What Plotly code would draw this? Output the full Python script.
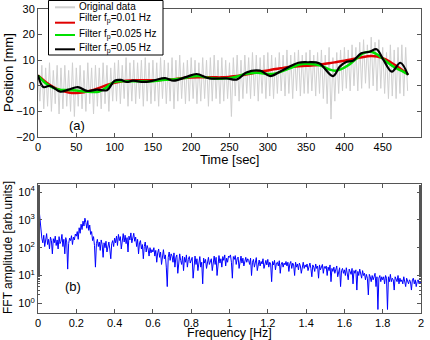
import plotly.graph_objects as go

# ---------------- data: panel (a) ----------------
raw_t_step = 2.5
raw_pos = [
    4, -6, 8, -9, 7, -8, 9, -10, 6, -7, 8, -11, 7, -9, 8, -8, 6, -10, 9, -12,
    7, -8, 8, -9, 6, -10, 9, -7, 7, -11, 8, -8, 7, -9, 9, -7, 8, -10, 7, -6,
    9, -6, 10, -7, 8, -5, 11, -8, 9, -6, 10, -7, 9, -5, 10, -8, 11, -6, 9, -7,
    10, -6, 9, -8, 11, -5, 10, -7, 9, -6, 11, -9, 10, -6, 12, -5, 9, -7, 10, -6,
    11, -5, 10, -7, 9, -6, 11, -5, 10, -8, 11, -6, 12, -5, 10, -7, 11, -6, 10, -5,
    9, -12, 11, -4, 12, -6, 10, -5, 12, -3, 11, -5, 13, -4, 12, -6, 11, -3, 12, -5,
    13, -4, 12, -5, 11, -3, 13, -2, 12, -4, 14, -3, 12, -5, 13, -2, 14, -4, 12, -3,
    13, -3, 14, -2, 12, -4, 13, -3, 14, -5, 12, -7, 15, -13, 11, -6, 13, -3, 14, -2,
    15, -1, 14, -2, 16, 0, 15, -2, 17, -1, 18, 1, 16, -1, 19, 0, 17, -2, 18, -1,
    15, -3, 13, -5, 16, -4, 14, -5, 15, -3, 16, -4, 15, -2,
]
raw_time = [i * raw_t_step for i in range(len(raw_pos))]

red_time = [0, 10, 20, 30, 40, 50, 60, 70, 80, 90, 100, 110, 120, 130, 140, 150,
            160, 170, 180, 190, 200, 210, 220, 230, 240, 250, 260, 270, 280, 290,
            300, 310, 320, 330, 340, 350, 360, 370, 380, 390, 400, 410, 420, 436,
            450, 460, 470, 483]
red_pos = [4, 1.5, -0.5, -1.8, -2.6, -2.8, -2.5, -1.8, -0.8, 0.3, 1.2, 1.8, 2.1,
           2.2, 2.2, 2.2, 2.3, 2.5, 2.7, 3.0, 3.2, 3.3, 3.3, 3.3, 3.3, 3.5, 3.8,
           4.3, 4.9, 5.5, 6.0, 6.6, 7.0, 7.4, 7.6, 7.8, 8.0, 8.4, 8.8, 9.3, 9.8,
           10.4, 11.0, 11.6, 10.8, 9.3, 7.3, 4.5]

green_time = [0, 10, 20, 30, 40, 50, 60, 70, 80, 90, 100, 110, 120, 130, 140, 150,
              160, 170, 180, 190, 200, 210, 220, 230, 240, 250, 260, 270, 280, 290,
              300, 310, 320, 330, 340, 350, 360, 370, 380, 388, 395, 405, 415, 425,
              435, 445, 455, 465, 475, 483]
green_pos = [4, 1, -0.8, -1.6, -1.6, -1.8, -2.2, -2.4, -2.2, -0.5, 1.6, 1.8, 1.8,
             1.8, 1.7, 1.8, 2.2, 2.4, 2.6, 3.0, 3.6, 3.8, 3.2, 2.9, 2.8, 3.0, 3.6,
             4.6, 5.0, 5.0, 4.6, 4.8, 5.8, 7.0, 8.2, 8.6, 8.4, 7.8, 6.4, 5.9, 6.4,
             8.0, 10.5, 12.8, 13.3, 11.8, 9.4, 7.3, 5.8, 4.5]

black_time = [0, 7, 16, 29, 40, 52, 64, 77, 90, 100, 108, 116, 124, 138, 150, 166,
              177, 194, 207, 224, 246, 260, 272, 290, 303, 318, 340, 352, 367, 385,
              394, 403, 411, 422, 433, 442, 451, 462, 473, 483]
black_pos = [4.2, -0.5, 0, -2.3, -1.5, -0.5, -2, -1.5, -1.7, 2, 2.3, 1.5, 2, 1.5,
             2, 3, 2, 3.5, 4.6, 2.9, 2.9, 2.5, 5.2, 5.9, 3.8, 5.9, 9, 9.2, 8.8,
             3.8, 7.5, 9.4, 9.8, 12.7, 13.3, 14.3, 10.1, 5.5, 9, 4.2]

# ---------------- data: panel (b) ----------------
fft_df = 0.005
fft_amp = [
    6000, 2500, 900, 400, 220, 150, 280, 110, 170, 320, 130, 200, 90, 240, 180, 60, 210, 150, 260, 120,
    190, 90, 250, 140, 170, 300, 110, 200, 60, 230, 160, 17, 140, 220, 180, 270, 130, 240, 190, 310,
    260, 380, 200, 520, 330, 700, 450, 900, 600, 1150, 800, 500, 950, 420, 650, 300, 380, 180, 250, 120,
    20, 140, 200, 110, 160, 80, 190, 130, 45, 150, 100, 170, 70, 120, 160, 90, 40, 140, 180, 110,
    220, 150, 260, 120, 300, 180, 250, 90, 200, 320, 160, 280, 140, 230, 70, 260, 190, 340, 150, 210,
    330, 170, 240, 110, 200, 60, 150, 180, 90, 130, 40, 110, 160, 70, 120, 90, 50, 100, 65, 85,
    70, 100, 50, 80, 30, 65, 90, 45, 70, 25, 60, 85, 40, 55, 20, 4, 45, 70, 35, 60,
    50, 30, 65, 20, 45, 55, 12, 40, 60, 35, 25, 50, 15, 45, 30, 55, 20, 38, 48, 28,
    35, 45, 8, 30, 50, 25, 40, 15, 35, 48, 20, 30, 5, 42, 28, 38, 18, 33, 45, 25,
    30, 40, 15, 35, 50, 25, 45, 10, 38, 52, 28, 40, 20, 48, 35, 55, 22, 42, 30, 50,
    45, 55, 30, 8, 48, 38, 52, 25, 40, 46, 18, 35, 50, 28, 42, 22, 38, 45, 30, 40,
    35, 25, 42, 10, 30, 38, 20, 33, 44, 15, 28, 36, 22, 32, 26, 40, 18, 30, 35, 24,
    38, 20, 30, 26, 6, 32, 24, 35, 16, 28, 30, 22, 34, 12, 26, 30, 20, 28, 24, 32,
    22, 30, 14, 26, 32, 18, 28, 24, 10, 30, 20, 26, 16, 28, 22, 12, 25, 30, 18, 24,
    20, 26, 15, 22, 28, 18, 9, 24, 20, 14, 26, 18, 22, 8, 24, 16, 20, 25, 12, 21,
    18, 22, 10, 20, 15, 24, 6, 18, 14, 20, 12, 17, 22, 9, 16, 19, 4, 15, 18, 12,
    16, 10, 19, 13, 7, 17, 14, 11, 18, 5, 15, 12, 16, 3, 14, 10, 17, 12, 8, 15,
    10, 12, 7, 11, 8, 2, 11, 9, 6, 10, 7, 9, 12, 4, 9, 0.6, 8, 10, 6, 9,
    7, 9, 5, 10, 8, 0.6, 9, 6, 11, 6, 8, 7, 3, 9, 7, 6, 10, 5, 8, 6,
    7, 5, 9, 6, 4, 8, 6, 5, 7, 6, 3, 7, 8, 5, 7, 4, 6, 7, 5, 6,
    5,
]
fft_freq = [round(i * fft_df, 4) for i in range(len(fft_amp))]

x_ticks_a = [0, 50, 100, 150, 200, 250, 300, 350, 400, 450, 500]
y_ticks_a = [-20, -10, 0, 10, 20, 30]
x_ticks_b = [0, 0.2, 0.4, 0.6, 0.8, 1, 1.2, 1.4, 1.6, 1.8, 2]
x_ticktext_b = ["0", "0.2", "0.4", "0.6", "0.8", "1", "1.2", "1.4", "1.6", "1.8", "2"]
y_ticks_b = [1, 10, 100, 1000, 10000]
y_ticktext_b = ["10<sup>0</sup>", "10<sup>1</sup>", "10<sup>2</sup>", "10<sup>3</sup>", "10<sup>4</sup>"]

legend_labels = ["Original data", "Filter f<sub>p</sub>=0.01 Hz",
                 "Filter f<sub>p</sub>=0.025 Hz", "Filter f<sub>p</sub>=0.05 Hz"]
legend_colors = ["#d0d0d0", "#e00000", "#00e000", "#000000"]

FONT = "Liberation Sans, Arial, sans-serif"
W, H = 430, 340


def px(x):
    return x / W


def py(y):
    return (H - y) / H


fig = go.Figure()
fig.add_trace(go.Scatter(x=raw_time, y=raw_pos, mode="lines", name=legend_labels[0],
                         line=dict(color=legend_colors[0], width=1), xaxis="x", yaxis="y"))
fig.add_trace(go.Scatter(x=red_time, y=red_pos, mode="lines", name=legend_labels[1],
                         line=dict(color=legend_colors[1], width=2.5, shape="spline"), xaxis="x", yaxis="y"))
fig.add_trace(go.Scatter(x=green_time, y=green_pos, mode="lines", name=legend_labels[2],
                         line=dict(color=legend_colors[2], width=2.5, shape="spline"), xaxis="x", yaxis="y"))
fig.add_trace(go.Scatter(x=black_time, y=black_pos, mode="lines", name=legend_labels[3],
                         line=dict(color=legend_colors[3], width=2.2, shape="spline"), xaxis="x", yaxis="y"))
fig.add_trace(go.Scatter(x=fft_freq, y=fft_amp, mode="lines", name="FFT",
                         line=dict(color="#0000ff", width=1), xaxis="x2", yaxis="y2"))

axis_common = dict(showline=True, linecolor="#555555", linewidth=1, mirror="ticks",
                   ticks="inside", ticklen=4, tickcolor="#555555", showgrid=False,
                   zeroline=False, automargin=False,
                   tickfont=dict(size=11, color="black", family=FONT))

# compact legend drawn as a boxed key (matching the reference's tight rows)
shapes = [dict(type="rect", xref="paper", yref="paper", x0=px(48.5), x1=px(163),
               y0=py(55), y1=py(0.5), line=dict(color="black", width=1), fillcolor="white",
               layer="above")]
annotations = []
line_rows = [7.3, 22.7, 35, 49.3]
text_rows = [6.7, 18.5, 34.5, 48]
for lab, col, ly, ty in zip(legend_labels, legend_colors, line_rows, text_rows):
    shapes.append(dict(type="line", xref="paper", yref="paper", x0=px(55), x1=px(75),
                       y0=py(ly), y1=py(ly), line=dict(color=col, width=2), layer="above"))
    annotations.append(dict(text=lab, x=px(77), y=py(ty), xref="paper", yref="paper",
                            xanchor="left", yanchor="middle", showarrow=False,
                            font=dict(size=10, family=FONT, color="black")))

annotations += [
    dict(text="(a)", x=px(67), y=py(125), xref="paper", yref="paper", showarrow=False,
         font=dict(size=13)),
    dict(text="(b)", x=px(63), y=py(296), xref="paper", yref="paper", showarrow=False,
         font=dict(size=13)),
    # axis titles
    dict(text="Time [sec]", x=px(229.5), y=py(159.5), xref="paper", yref="paper",
         showarrow=False, xanchor="center", yanchor="middle", font=dict(size=13)),
    dict(text="Frequency [Hz]", x=px(229.5), y=py(333.3), xref="paper", yref="paper",
         showarrow=False, xanchor="center", yanchor="middle", font=dict(size=12.5)),
    dict(text="Position [mm]", x=px(8), y=py(73), xref="paper", yref="paper", textangle=-90,
         showarrow=False, xanchor="center", yanchor="middle", font=dict(size=13)),
    dict(text="FFT amplitude [arb.units]", x=px(8), y=py(248), xref="paper", yref="paper",
         textangle=-90, showarrow=False, xanchor="center", yanchor="middle",
         font=dict(size=12)),
]

fig.update_layout(
    width=W, height=H,
    margin=dict(l=0, r=0, t=0, b=0, autoexpand=False),
    paper_bgcolor="white", plot_bgcolor="white",
    font=dict(family=FONT, color="black", size=11),
    showlegend=False,
    xaxis=dict(domain=[px(38), px(421)], range=[0, 500], tickvals=x_ticks_a,
               anchor="y", **axis_common),
    yaxis=dict(domain=[py(137), py(9)], range=[-20, 30], tickvals=y_ticks_a,
               anchor="x", **axis_common),
    xaxis2=dict(domain=[px(38), px(421)], range=[0, 2], tickvals=x_ticks_b, ticktext=x_ticktext_b,
                anchor="y2", **axis_common),
    yaxis2=dict(domain=[py(312.5), py(184)], type="log", range=[-0.33, 4.29],
                tickvals=y_ticks_b, ticktext=y_ticktext_b, anchor="x2",
                minor=dict(ticks="inside", ticklen=2, tickcolor="#555555", showgrid=False),
                **axis_common),
    shapes=shapes,
    annotations=annotations,
)

fig.write_html("out.html", config={"displayModeBar": False},
               post_script="document.body.style.margin='0px';")
